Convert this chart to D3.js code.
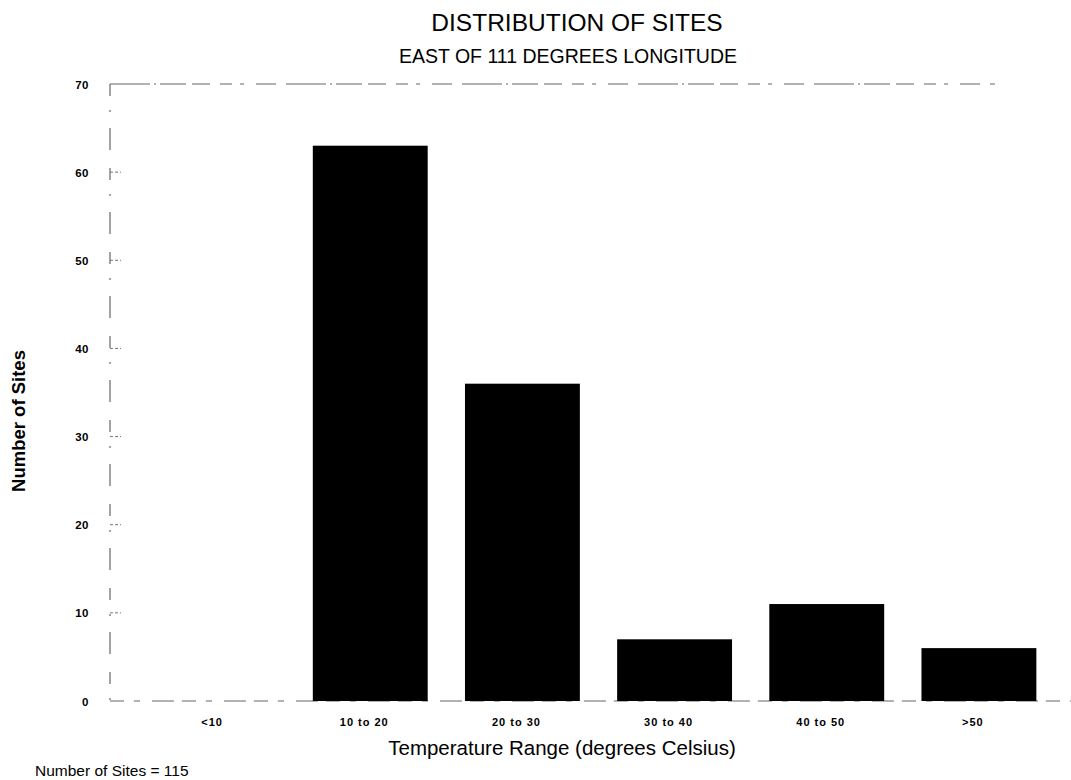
<!DOCTYPE html>
<html>
<head>
<meta charset="utf-8">
<script src="https://cdn.jsdelivr.net/npm/d3@7"></script>
<style>
  body { margin: 0; background: #fff; }
  text { font-family: "Liberation Sans", Arial, sans-serif; fill: #000; }
</style>
</head>
<body>
<div id="chart"></div>
<script>
const categories = ['<10', '10 to 20', '20 to 30', '30 to 40', '40 to 50', '>50'];
const siteCounts = [0, 63, 36, 7, 11, 6];
const yTicks = [0, 10, 20, 30, 40, 50, 60, 70];

const width = 1071;
const height = 780;

const svg = d3.select('#chart').append('svg')
  .attr('width', width)
  .attr('height', height);

const x = d3.scaleBand()
  .domain(categories)
  .range([142, 1055])
  .paddingInner(0.245)
  .paddingOuter(0.1225);

const y = d3.scaleLinear()
  .domain([0, 70])
  .range([701, 84]);

// titles
svg.append('text')
  .attr('x', 577).attr('y', 31)
  .attr('text-anchor', 'middle')
  .style('font-size', '24.5px')
  .text('DISTRIBUTION OF SITES');

svg.append('text')
  .attr('x', 568).attr('y', 63)
  .attr('text-anchor', 'middle')
  .style('font-size', '19.5px')
  .text('EAST OF 111 DEGREES LONGITUDE');

// frame lines (scanned look: broken grey)
const frame = svg.append('g')
  .attr('stroke', '#666')
  .attr('stroke-width', 1.2)
  .attr('fill', 'none');

frame.append('line')
  .attr('x1', 110).attr('x2', 995)
  .attr('y1', y(70)).attr('y2', y(70))
  .attr('stroke-dasharray', '40 4 2 4 26 6 18 10 12 8 4 12 20 10');

frame.append('line')
  .attr('x1', 110).attr('x2', 110)
  .attr('y1', y(70)).attr('y2', y(0))
  .attr('stroke-dasharray', '12 14 2 16 22 18');

frame.append('line')
  .attr('x1', 110).attr('x2', width)
  .attr('y1', y(0)).attr('y2', y(0))
  .attr('stroke-dasharray', '14 10 6 12 22 8');

// y ticks
const yAxis = svg.append('g');
yAxis.selectAll('line.tick')
  .data(yTicks.filter(d => d > 0 && d < 70))
  .join('line')
  .attr('class', 'tick')
  .attr('x1', 110).attr('x2', 121)
  .attr('y1', d => y(d)).attr('y2', d => y(d))
  .attr('stroke', '#777')
  .attr('stroke-dasharray', '3 2');

yAxis.selectAll('text')
  .data(yTicks)
  .join('text')
  .attr('x', 89)
  .attr('y', d => y(d) + 4.5)
  .attr('text-anchor', 'end')
  .style('font-size', '11.5px')
  .style('font-weight', 'bold')
  .style('letter-spacing', '0.5px')
  .text(d => d);

// bars
svg.append('g')
  .selectAll('rect')
  .data(categories.map((c, i) => ({ c, v: siteCounts[i] })))
  .join('rect')
  .attr('x', d => x(d.c))
  .attr('y', d => y(d.v))
  .attr('width', x.bandwidth())
  .attr('height', d => y(0) - y(d.v))
  .attr('fill', '#000');

// x labels
svg.append('g')
  .selectAll('text')
  .data(categories)
  .join('text')
  .attr('x', d => x(d) + x.bandwidth() / 2 - 6)
  .attr('y', 726)
  .attr('text-anchor', 'middle')
  .style('font-size', '11px')
  .style('font-weight', 'bold')
  .style('letter-spacing', '1px')
  .text(d => d);

svg.append('text')
  .attr('x', 562).attr('y', 755)
  .attr('text-anchor', 'middle')
  .style('font-size', '20.5px')
  .text('Temperature Range (degrees Celsius)');

svg.append('text')
  .attr('transform', 'translate(25,421) rotate(-90)')
  .attr('text-anchor', 'middle')
  .style('font-size', '18.5px')
  .style('font-weight', 'bold')
  .text('Number of Sites');

svg.append('text')
  .attr('x', 35).attr('y', 776)
  .style('font-size', '15.5px')
  .text('Number of Sites = 115');
</script>
</body>
</html>
